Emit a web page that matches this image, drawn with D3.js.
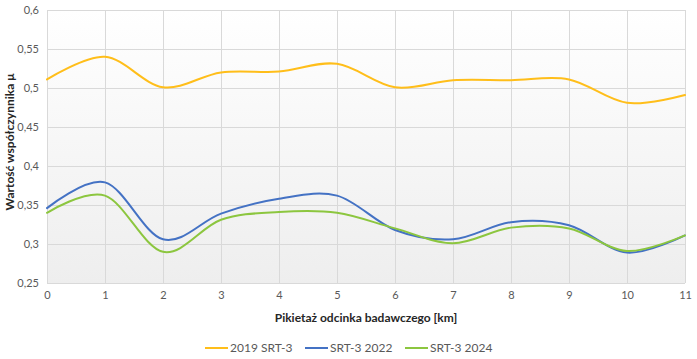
<!DOCTYPE html>
<html><head><meta charset="utf-8">
<script src="https://cdn.jsdelivr.net/npm/d3@7"></script>
<style>
html,body{margin:0;padding:0;background:#fff;}
svg{display:block;font-family:Lato,"Open Sans",sans-serif;}
</style></head>
<body><svg id="c" width="697" height="359"></svg>
<script>
const xValues = [0,1,2,3,4,5,6,7,8,9,10,11];
const yTicks = [0.25,0.3,0.35,0.4,0.45,0.5,0.55,0.6];
const seriesNames = ["2019 SRT-3","SRT-3 2022","SRT-3 2024"];
const s2019 = [0.511,0.540,0.501,0.520,0.521,0.531,0.501,0.510,0.510,0.511,0.481,0.491];
const s2022 = [0.346,0.379,0.306,0.339,0.358,0.362,0.318,0.306,0.328,0.324,0.289,0.311];
const s2024 = [0.340,0.362,0.290,0.331,0.341,0.340,0.320,0.301,0.321,0.320,0.291,0.311];
const colors = ["#FFBE1A","#4472C4","#8CC63F"];

const svg = d3.select("#c");
const m = {l:47, r:685, t:10, b:283};
const x = d3.scaleLinear().domain([0,11]).range([m.l,m.r]);
const y = d3.scaleLinear().domain([0.25,0.6]).range([m.b,m.t]);
const fmt = v => String(+v.toFixed(2)).replace(".",",");

const defs = svg.append("defs");
const g = defs.append("linearGradient").attr("id","bg").attr("x1",0).attr("y1",0).attr("x2",0).attr("y2",1);
g.append("stop").attr("offset","0%").attr("stop-color","#ffffff");
g.append("stop").attr("offset","100%").attr("stop-color","#eeeeee");
svg.append("rect").attr("x",m.l).attr("y",m.t).attr("width",m.r-m.l).attr("height",m.b-m.t).attr("fill","url(#bg)");

// grid
svg.append("g").selectAll("line").data(yTicks).join("line")
  .attr("x1",m.l).attr("x2",m.r).attr("y1",d=>y(d)).attr("y2",d=>y(d))
  .attr("stroke","#d9d9d9").attr("stroke-width",1).attr("shape-rendering","crispEdges");
svg.append("g").selectAll("line").data(xValues).join("line")
  .attr("y1",m.t).attr("y2",m.b).attr("x1",d=>x(d)).attr("x2",d=>x(d))
  .attr("stroke","#d9d9d9").attr("stroke-width",1).attr("shape-rendering","crispEdges");

// axes labels
const ya = d3.axisLeft(y).tickValues(yTicks).tickFormat(fmt).tickSize(0).tickPadding(8);
const yg = svg.append("g").attr("transform",`translate(${m.l},0)`).call(ya);
yg.select(".domain").remove();
yg.selectAll("text").attr("fill","#595959").style("font-size","11px").style("font-family","Lato,sans-serif");
const xa = d3.axisBottom(x).tickValues(xValues).tickFormat(d=>d).tickSize(0).tickPadding(8);
const xg = svg.append("g").attr("transform",`translate(0,${m.b})`).call(xa);
xg.select(".domain").remove();
xg.selectAll("text").attr("fill","#595959").style("font-size","11px").style("font-family","Lato,sans-serif");

// lines
const line = d3.line().x((d,i)=>x(xValues[i])).y(d=>y(d)).curve(d3.curveCardinal.tension(0));
[s2019,s2022,s2024].forEach((s,i)=>{
  svg.append("path").datum(s).attr("d",line).attr("fill","none")
    .attr("stroke",colors[i]).attr("stroke-width",2).attr("stroke-linecap","round");
});

// titles
svg.append("text").attr("x",366).attr("y",322).attr("text-anchor","middle")
  .attr("fill","#262626").style("font-weight","bold").style("font-size","12px")
  .text("Pikietaż odcinka badawczego [km]");
svg.append("text").attr("transform","translate(14,142) rotate(-90)").attr("text-anchor","middle")
  .attr("fill","#262626").style("font-weight","bold").style("font-size","12px")
  .text("Wartość współczynnika μ");

// legend
const lx = [205,305,405];
seriesNames.forEach((n,i)=>{
  svg.append("line").attr("x1",lx[i]).attr("x2",lx[i]+23).attr("y1",348).attr("y2",348)
    .attr("stroke",colors[i]).attr("stroke-width",2);
  svg.append("text").attr("x",lx[i]+25).attr("y",352).attr("fill","#595959")
    .style("font-size","12px").text(n);
});
</script></body></html>
